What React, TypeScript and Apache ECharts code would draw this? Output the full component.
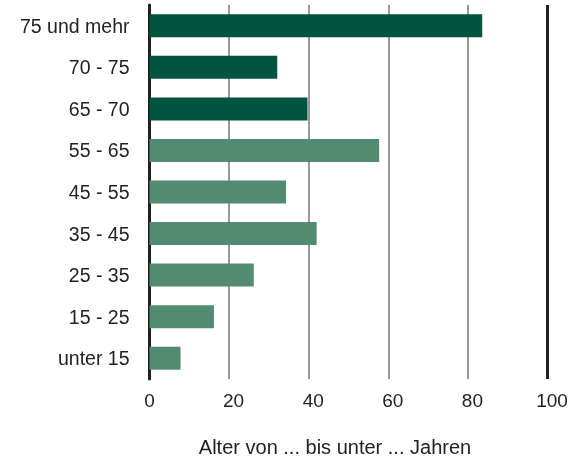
import React, { useEffect, useRef } from "react";
import * as echarts from "echarts";

const categories = [
  "unter 15",
  "15 - 25",
  "25 - 35",
  "35 - 45",
  "45 - 55",
  "55 - 65",
  "65 - 70",
  "70 - 75",
  "75 und mehr",
];
const values = [7.8, 16.2, 26.2, 42.0, 34.3, 57.7, 39.7, 32.1, 83.6];
const darkCategories = ["65 - 70", "70 - 75", "75 und mehr"];
const xTicks = [0, 20, 40, 60, 80, 100];
const axisTitle = "Alter von ... bis unter ... Jahren";

const DARK = "#02543f";
const LIGHT = "#528b71";
const FONT = "Liberation Sans, Arial, sans-serif";

export default function App() {
  const ref = useRef<HTMLDivElement>(null);
  useEffect(() => {
    if (!ref.current) return;
    const chart = echarts.init(ref.current, undefined, { renderer: "svg" });
    chart.setOption({
      animation: false,
      grid: {
        left: 149.5,
        right: 28.5,
        top: 5,
        bottom: 86,
        containLabel: false,
        outerBoundsMode: "none",
      },
      xAxis: {
        type: "value",
        min: xTicks[0],
        max: xTicks[xTicks.length - 1],
        interval: 20,
        axisLine: { show: false },
        axisTick: { show: false },
        axisLabel: {
          color: "#222",
          fontSize: 19,
          fontFamily: FONT,
          margin: 12,
          formatter: (v: number) => (v === 0 ? `{z|${v}}` : `{n|${v}}`),
          rich: {
            z: { fontSize: 19, fontFamily: FONT, color: "#222" },
            n: { fontSize: 19, fontFamily: FONT, color: "#222", padding: [0, 0, 0, 9] },
          },
        },
        splitLine: {
          show: true,
          lineStyle: {
            color: ["#231f20", "#999999", "#999999", "#999999", "#999999", "#231f20"],
            width: 2,
          },
        },
      },
      yAxis: {
        type: "category",
        data: categories,
        axisLine: { show: true, lineStyle: { color: "#231f20", width: 3 } },
        axisTick: { show: false },
        axisLabel: {
          color: "#222",
          fontSize: 19.5,
          fontFamily: FONT,
          margin: 20,
        },
      },
      series: [
        {
          type: "bar",
          barWidth: 23,
          data: values.map((v, i) => ({
            value: v,
            itemStyle: {
              color: darkCategories.includes(categories[i]) ? DARK : LIGHT,
            },
          })),
          markLine: {
            silent: true,
            symbol: "none",
            label: { show: false },
            lineStyle: { color: "#231f20", width: 3, type: "solid" },
            data: [{ xAxis: xTicks[xTicks.length - 1] }],
          },
        },
      ],
      graphic: [
        {
          type: "text",
          x: 335,
          y: 447,
          style: {
            text: axisTitle,
            fontSize: 20,
            fontFamily: FONT,
            fill: "#222",
            textAlign: "center",
            textVerticalAlign: "middle",
          },
        },
      ],
    });
    return () => chart.dispose();
  }, []);
  return (
    <div
      ref={ref}
      style={{ position: "fixed", left: 0, top: 0, width: 576, height: 465 }}
    />
  );
}
